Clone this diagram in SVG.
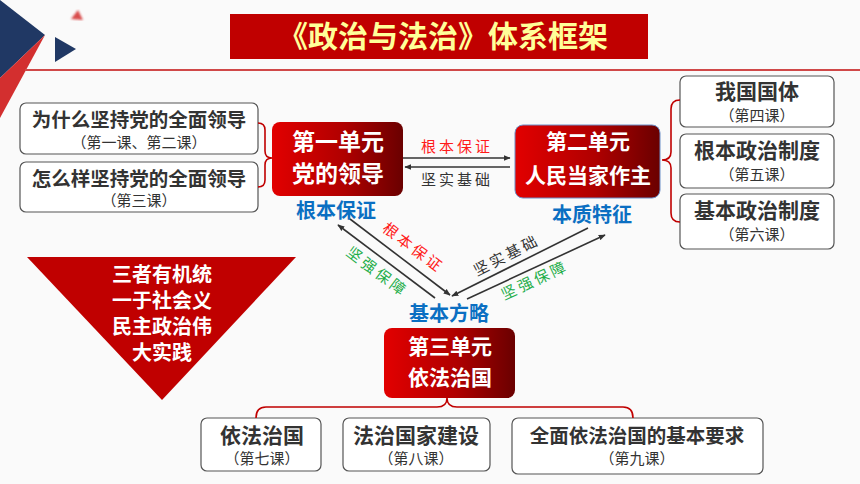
<svg xmlns="http://www.w3.org/2000/svg" width="860" height="484" viewBox="0 0 860 484">
<defs>
<linearGradient id="unitGrad" x1="0" y1="0" x2="1" y2="0">
<stop offset="0" stop-color="#e20000"/>
<stop offset="0.55" stop-color="#b00000"/>
<stop offset="1" stop-color="#6a0000"/>
</linearGradient>
<marker id="arr" viewBox="0 0 10 10" refX="9" refY="5" markerWidth="7" markerHeight="7" orient="auto" markerUnits="userSpaceOnUse">
<path d="M0,1 L10,5 L0,9 Z" fill="#333"/>
</marker>
<filter id="blur"><feGaussianBlur stdDeviation="1.2"/></filter>
</defs>
<style>
text{font-family:"Noto Sans CJK SC","Noto Sans",sans-serif;text-anchor:middle}
.box{fill:#fff;stroke:#555;stroke-width:1.2}
.bt{font-size:20px;font-weight:bold;fill:#333}
.st{font-size:15px;fill:#333}
.unit{fill:url(#unitGrad)}
.ut{font-size:22px;font-weight:bold;fill:#fff}
.blue{font-size:20px;font-weight:bold;fill:#0b6fc2}
.tri{font-size:20px;font-weight:bold;fill:#fff}
.lab{font-size:15px;letter-spacing:3px}
.red{fill:#ff1a1a}
.green{fill:#1fae4a}
.dark{fill:#333}
.brace{fill:none;stroke:#c00000;stroke-width:1.6}
.conn{stroke:#333;stroke-width:1.6;fill:none}
</style>
<rect width="860" height="484" fill="#fafafa"/>
<!-- decoration -->
<polygon points="0,0 45,35 0,78" fill="#203864"/>
<polygon points="45,35 0,78 0,118" fill="#d32f2f"/>
<polygon points="55,37 76,49 55,62" fill="#203864"/>
<polygon points="71,19 78,10 83,20" fill="#d32f2f" filter="url(#blur)" opacity="0.85"/>
<line x1="25" y1="70" x2="860" y2="70" stroke="#d04848" stroke-width="2"/>
<!-- title -->
<g id="title">
<rect x="230" y="14" width="418" height="45" fill="#c00000"/>
<text x="443" y="47" style="font-size:30px;font-weight:bold;fill:#ffff99">《政治与法治》体系框架</text>
</g>
<!-- left boxes -->
<g id="why">
<rect class="box" x="20" y="103" width="238" height="51" rx="6"/>
<text class="bt" x="139" y="127" style="font-size:19.5px">为什么坚持党的全面领导</text>
<text class="st" x="139" y="148">（第一课、第二课）</text>
</g>
<g id="how">
<rect class="box" x="20" y="162" width="238" height="50" rx="6"/>
<text class="bt" x="139" y="186" style="font-size:19.5px">怎么样坚持党的全面领导</text>
<text class="st" x="139" y="206">（第三课）</text>
</g>
<!-- unit 1 -->
<g id="unit1">
<rect class="unit" x="272" y="122" width="131" height="74" rx="8"/>
<text class="ut" x="338" y="150" style="font-size:23px">第一单元</text>
<text class="ut" x="338" y="182" style="font-size:23px">党的领导</text>
<text class="blue" x="336" y="218">根本保证</text>
</g>
<!-- unit 2 -->
<g id="unit2">
<rect class="unit" x="515" y="125" width="145" height="73" rx="8" stroke="#6d8fc8" stroke-width="1"/>
<text class="ut" x="588" y="149" style="font-size:21px">第二单元</text>
<text class="ut" x="588" y="183" style="font-size:21px">人民当家作主</text>
<text class="blue" x="592" y="222">本质特征</text>
</g>
<!-- right boxes -->
<g id="guoti">
<rect class="box" x="680" y="76" width="154" height="51" rx="6"/>
<text class="bt" x="757" y="99" style="font-size:21px">我国国体</text>
<text class="st" x="757" y="121">（第四课）</text>
</g>
<g id="genben">
<rect class="box" x="680" y="134" width="154" height="54" rx="6"/>
<text class="bt" x="757" y="158" style="font-size:21px">根本政治制度</text>
<text class="st" x="757" y="180">（第五课）</text>
</g>
<g id="jiben">
<rect class="box" x="680" y="194" width="154" height="55" rx="6"/>
<text class="bt" x="757" y="218" style="font-size:21px">基本政治制度</text>
<text class="st" x="757" y="240">（第六课）</text>
</g>
<!-- triangle -->
<g id="triangle">
<polygon points="27,257 296,257 162,400" fill="#c00000"/>
<text class="tri" x="162" y="282">三者有机统</text>
<text class="tri" x="162" y="308">一于社会义</text>
<text class="tri" x="162" y="334">民主政治伟</text>
<text class="tri" x="162" y="360">大实践</text>
</g>
<!-- unit 3 -->
<g id="unit3">
<text class="blue" x="449" y="321">基本方略</text>
<rect class="unit" x="384" y="328" width="131" height="70" rx="8"/>
<text class="ut" x="450" y="354" style="font-size:21px">第三单元</text>
<text class="ut" x="450" y="385" style="font-size:21px">依法治国</text>
</g>
<!-- bottom boxes -->
<g id="yifa">
<rect class="box" x="201" y="418" width="120" height="53" rx="6"/>
<text class="bt" x="262" y="443" style="font-size:21px">依法治国</text>
<text class="st" x="262" y="464">（第七课）</text>
</g>
<g id="jianshe">
<rect class="box" x="343" y="418" width="147" height="53" rx="6"/>
<text class="bt" x="416" y="443" style="font-size:21px">法治国家建设</text>
<text class="st" x="416" y="464">（第八课）</text>
</g>
<g id="yaoqiu">
<rect class="box" x="512" y="418" width="251" height="56" rx="6"/>
<text class="bt" x="637" y="443" style="font-size:19.5px">全面依法治国的基本要求</text>
<text class="st" x="637" y="464">（第九课）</text>
</g>
<!-- connectors -->
<g id="connectors">
<path class="brace" d="M258,123 Q265,123 265,130 L265,151 Q265,158 272,158 Q265,158 265,165 L265,180 Q265,187 258,187"/>
<path class="brace" d="M680,100 Q671,100 671,109 L671,152 Q671,160 662,160 Q671,160 671,168 L671,213 Q671,222 680,222"/>
<path class="brace" d="M256,418 Q256,407 266,407 L437,407 Q447,407 447,398 Q447,407 457,407 L623,407 Q633,407 633,418"/>
<line class="conn" x1="403" y1="158" x2="510" y2="158" marker-end="url(#arr)"/>
<line class="conn" x1="510" y1="167" x2="405" y2="167" marker-end="url(#arr)"/>
<line class="conn" x1="435" y1="298" x2="338" y2="225" marker-end="url(#arr)"/>
<line class="conn" x1="350" y1="219" x2="450" y2="295" marker-end="url(#arr)"/>
<line class="conn" x1="588" y1="228" x2="452" y2="296" marker-end="url(#arr)"/>
<line class="conn" x1="467" y1="299" x2="605" y2="235" marker-end="url(#arr)"/>
<text class="lab red" x="457" y="152">根本保证</text>
<text class="lab dark" x="457" y="185">坚实基础</text>
<text class="lab green" transform="translate(374,276) rotate(37)">坚强保障</text>
<text class="lab red" transform="translate(410,252) rotate(37)">根本保证</text>
<text class="lab dark" transform="translate(509,260) rotate(-27)">坚实基础</text>
<text class="lab green" transform="translate(537,285) rotate(-25)">坚强保障</text>
</g>
</svg>
